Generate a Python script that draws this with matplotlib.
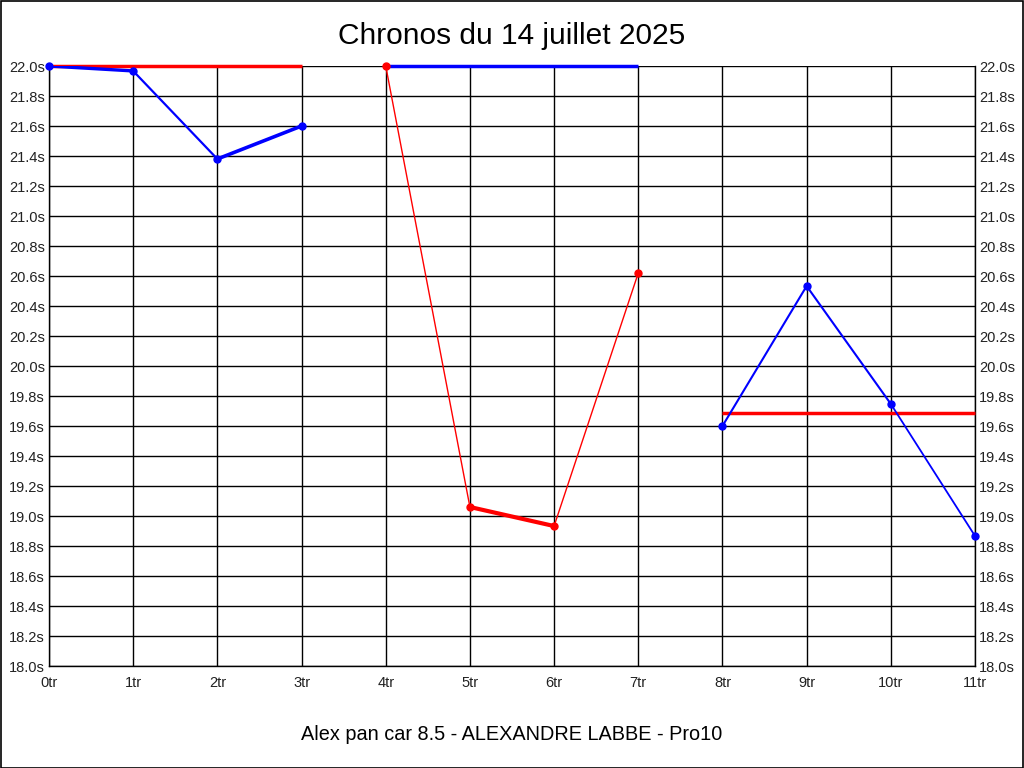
import numpy as np
import matplotlib.pyplot as plt
from matplotlib.patches import Rectangle

plt.rcParams['font.family'] = ['Liberation Sans', 'DejaVu Sans']

# laps in three runs, chrono per lap (s)
run1_x = [0, 1, 2, 3]
run1_y = [22.0, 21.967, 21.38, 21.6]
run2_x = [4, 5, 6, 7]
run2_y = [22.0, 19.06, 18.933, 20.62]
run3_x = [8, 9, 10, 11]
run3_y = [19.6, 20.533, 19.747, 18.867]

# reference line of each run
ref1 = 22.0
ref2 = 22.0
ref3 = 19.687

xticks = list(range(12))
xlabels = [str(i) + "tr" for i in xticks]
yticks = np.arange(18.0, 22.01, 0.2)

fig = plt.figure(figsize=(10.24, 7.68), dpi=100, facecolor='white')
ax = fig.add_axes([49/1024, 1 - 666/768, 926/1024, 600/768])

# widths of each segment (as drawn)
w1 = [2.4, 1.6, 2.6]
w2 = [1.0, 3.0, 1.0]
w3 = [1.5, 1.5, 1.3]

def draw_run(xs, ys, color, widths):
    for i in range(len(xs) - 1):
        ax.plot(xs[i:i+2], ys[i:i+2], color=color, lw=widths[i], solid_capstyle='round', zorder=3)
    ax.plot(xs, ys, 'o', color=color, ms=5, zorder=4, clip_on=False)

ax.plot([run1_x[0], run1_x[-1]], [ref1, ref1], color='red', lw=2.5, zorder=3, clip_on=False, solid_capstyle='butt')
draw_run(run1_x, run1_y, 'blue', w1)
ax.plot([run2_x[0], run2_x[-1]], [ref2, ref2], color='blue', lw=2.5, zorder=3, clip_on=False, solid_capstyle='butt')
draw_run(run2_x, run2_y, 'red', w2)
ax.plot([run3_x[0], run3_x[-1]], [ref3, ref3], color='red', lw=2.5, zorder=3, clip_on=False, solid_capstyle='butt')
draw_run(run3_x, run3_y, 'blue', w3)

ax.set_xlim(0, 11)
ax.set_ylim(18.0, 22.0)
ax.set_xticks(xticks)
ax.set_xticklabels(xlabels, fontsize=10.5)
ax.set_yticks(yticks)
ax.set_yticklabels(["%.1fs" % v for v in yticks], fontsize=10.5)
ax.tick_params(axis='both', length=0, colors='#222222')
ax.tick_params(axis='x', pad=7)
ax.tick_params(axis='y', labelright=True, right=False, pad=3)
ax.grid(True, color='black', lw=1)
ax.spines['top'].set_visible(False)
for side in ['left', 'bottom', 'right']:
    ax.spines[side].set_linewidth(1)

fig.text(0.5, 1 - 36/768, "Chronos du 14 juillet 2025", ha='center', va='center', fontsize=21.5)
fig.text(0.5, 1 - 735/768, "Alex pan car 8.5 - ALEXANDRE LABBE - Pro10", ha='center', va='center', fontsize=14.3)

fig.patches.append(Rectangle((0.5/1024, 0.5/768), 1 - 1.5/1024, 1 - 1.5/768, transform=fig.transFigure,
                             fill=False, edgecolor='black', lw=1.2))

fig.savefig('out.png', dpi=100)
